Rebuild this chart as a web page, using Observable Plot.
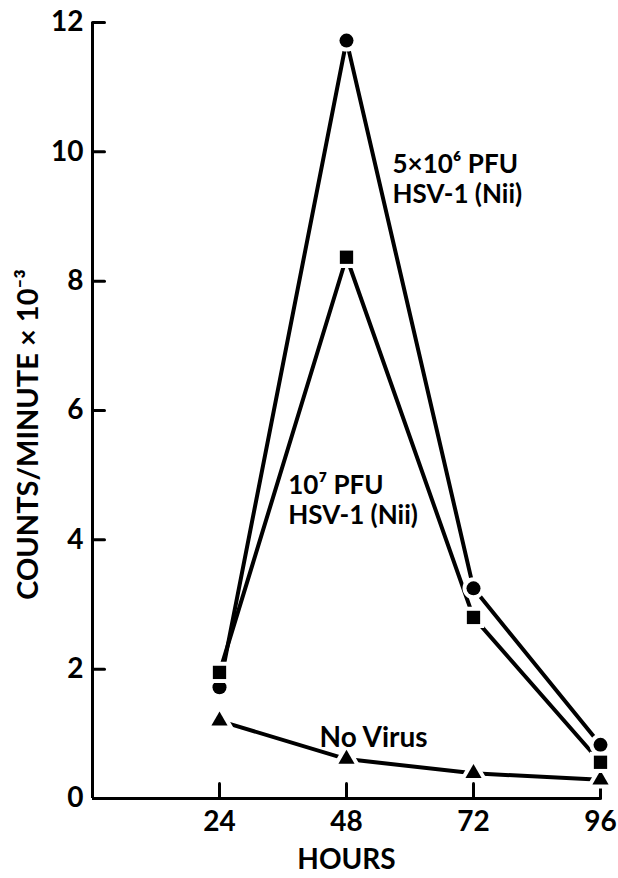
<!DOCTYPE html>
<html><head><meta charset="utf-8">
<script src="https://cdn.jsdelivr.net/npm/d3@7"></script>
<script src="https://cdn.jsdelivr.net/npm/@observablehq/plot@0.6"></script>
<style>
html,body{margin:0;padding:0;background:#fff;}
svg{display:block;}
</style></head><body><div id="chart"></div>
<script>
// ---- data ----
const hours = [24, 48, 72, 96];
const dose5e6 = [1.72, 11.72, 3.25, 0.83];   // filled circles
const dose1e7 = [1.95, 8.37, 2.80, 0.56];    // filled squares
const noVirus = [1.20, 0.61, 0.39, 0.29];    // filled triangles
const xTicks = [24, 48, 72, 96];
const yTicks = [0, 2, 4, 6, 8, 10, 12];
const labelA = ["5×10⁶ PFU", "HSV-1 (Nii)"];
const labelB = ["10⁷ PFU", "HSV-1 (Nii)"];
const labelC = ["No Virus"];
const yLabel = "COUNTS/MINUTE × 10⁻³";
const xLabel = "HOURS";

const rows = (name, vals) => hours.map((h, i) => ({series: name, hour: h, value: vals[i]}));
const sA = rows("A", dose5e6), sB = rows("B", dose1e7), sC = rows("C", noVirus);
const all = [...sA, ...sB, ...sC];

const tickShape = {draw(ctx, l) { ctx.moveTo(0, 0); ctx.lineTo(0, -l); }};
const font = 26;

const chart = Plot.plot({
  width: 618, height: 878,
  marginLeft: 92, marginRight: 18, marginTop: 22, marginBottom: 80,
  x: {domain: [0, 96]},
  y: {domain: [0, 12]},
  style: {fontFamily: "Lato, 'Open Sans', sans-serif", fontWeight: 700, color: "black", background: "white"},
  marks: [
    Plot.ruleX([0], {y1: 0, y2: 12, strokeWidth: 3, stroke: "black"}),
    Plot.ruleY([0], {x1: 0, x2: 96, strokeWidth: 3, stroke: "black"}),
    Plot.vector(yTicks.filter(d => d > 0), {x: 0, y: d => d, length: 12, rotate: 90, anchor: "start", shape: tickShape, stroke: "black", strokeWidth: 3}),
    Plot.vector(xTicks, {x: d => d, y: 0, length: 15, rotate: 0, anchor: "start", shape: tickShape, stroke: "black", strokeWidth: 3}),
    Plot.axisY(yTicks, {tickSize: 0, tickPadding: 9, fontSize: 28, label: null, fill: "black", tickFormat: d => String(d)}),
    Plot.axisX(xTicks, {tickSize: 0, tickPadding: 13, fontSize: 28, label: null, fill: "black", tickFormat: d => String(d)}),
    Plot.line(all, {x: "hour", y: "value", z: "series", stroke: "black", strokeWidth: 4}),
    Plot.dot(sC, {x: "hour", y: "value", symbol: "triangle", r: 6, fill: "black", stroke: "white", strokeWidth: 8, paintOrder: "stroke"}),
    Plot.dot(sA, {x: "hour", y: "value", symbol: "circle", r: 7, fill: "black", stroke: "white", strokeWidth: 8, paintOrder: "stroke"}),
    Plot.dot(sB, {x: "hour", y: "value", symbol: "square", r: 7.5, fill: "black", stroke: "white", strokeWidth: 8, paintOrder: "stroke"}),
    Plot.text([labelA.join("\n")], {x: 56.7, y: 10.0, text: d => d, textAnchor: "start", lineAnchor: "top", lineHeight: 1.15, fontSize: font, fill: "black"}),
    Plot.text([labelB.join("\n")], {x: 37.0, y: 5.03, text: d => d, textAnchor: "start", lineAnchor: "top", lineHeight: 1.15, fontSize: font, fill: "black"}),
    Plot.text(labelC, {x: 42.9, y: 1.10, text: d => d, textAnchor: "start", lineAnchor: "top", fontSize: 28, fill: "black"}),
    Plot.text([yLabel], {frameAnchor: "left", textAnchor: "middle", lineAnchor: "middle", rotate: -90, dx: -64, dy: 24, text: d => d, fontSize: 29, fill: "black"}),
    Plot.text([xLabel], {x: 48, frameAnchor: "bottom", dy: 70, text: d => d, fontSize: 28, fill: "black"})
  ]
});
document.getElementById("chart").append(chart);
</script>
</body></html>
